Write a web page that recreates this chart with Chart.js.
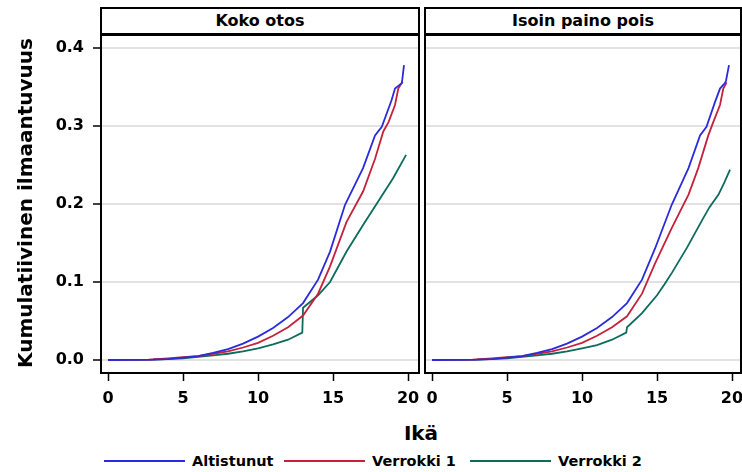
<!DOCTYPE html>
<html>
<head>
<meta charset="utf-8">
<script src="https://cdn.jsdelivr.net/npm/chart.js@4"></script>
<style>
  body { margin: 0; background: #fff; }
  #wrap { position: relative; width: 742px; height: 472px; font-family: "DejaVu Sans", sans-serif; font-weight: bold; color: #000; }
  canvas { position: absolute; top: 0; }
  #left { left: 0; }
  #right { left: 424px; }
  .strip { position: absolute; top: 7px; height: 29px; box-sizing: border-box; border: 2px solid #000; border-bottom-width: 3px; background: #fff; text-align: center; font-size: 16px; line-height: 24px; }
  #ylab { position: absolute; left: 25px; top: 203px; transform: translate(-50%, -50%) rotate(-90deg); font-size: 20px; white-space: nowrap; }
  #xlab { position: absolute; left: 421px; top: 433px; transform: translate(-50%, -50%); font-size: 20px; }
  .lg-line { position: absolute; top: 460px; height: 2px; width: 81px; }
  .lg-text { position: absolute; top: 452px; font-size: 14.5px; line-height: 18px; white-space: nowrap; }
</style>
</head>
<body>
<div id="wrap">
  <canvas id="left" width="421" height="420"></canvas>
  <canvas id="right" width="318" height="420"></canvas>
  <div class="strip" style="left:100px;width:320px">Koko otos</div>
  <div class="strip" style="left:424px;width:318px">Isoin paino pois</div>
  <div id="ylab">Kumulatiivinen ilmaantuvuus</div>
  <div id="xlab">Ikä</div>
  <div id="legend"></div>
</div>
<script>
const seriesNames = ["Altistunut", "Verrokki 1", "Verrokki 2"];
const seriesColors = ["#2b2bdc", "#c4213b", "#0b6b5d"];
const xTicks = [0, 5, 10, 15, 20];
const yTicks = [0, 0.1, 0.2, 0.3, 0.4];

// Koko otos
const ageAltL = [0, 3, 4, 5, 6, 7, 8, 9, 10, 11, 12, 13, 14, 14.8, 15.8, 17, 17.8, 18.25, 18.9, 19.13, 19.58, 19.62, 19.73];
const valAltL = [0, 0.0005, 0.0012, 0.003, 0.005, 0.009, 0.014, 0.021, 0.030, 0.041, 0.055, 0.073, 0.103, 0.139, 0.199, 0.246, 0.288, 0.299, 0.333, 0.348, 0.355, 0.360, 0.378];
const ageV1L = [0, 2.7, 4, 5, 6, 7, 8, 9, 10, 11, 12, 13, 14, 14.8, 15.9, 17, 17.8, 18.35, 18.7, 19.13, 19.35, 19.64];
const valV1L = [0, 0.0005, 0.002, 0.0035, 0.005, 0.008, 0.011, 0.016, 0.022, 0.031, 0.042, 0.057, 0.085, 0.120, 0.177, 0.216, 0.258, 0.293, 0.305, 0.327, 0.348, 0.357];
const ageV2L = [0, 3, 5, 6, 7, 8, 9, 10, 11, 12, 12.95, 13, 14, 14.8, 15.9, 17, 17.9, 19, 19.87];
const valV2L = [0, 0.0005, 0.002, 0.004, 0.006, 0.008, 0.011, 0.015, 0.020, 0.026, 0.035, 0.067, 0.083, 0.100, 0.139, 0.173, 0.200, 0.233, 0.263];

// Isoin paino pois
const ageAltR = [0, 3, 4, 5, 6, 7, 8, 9, 10, 11, 12, 13, 14, 14.87, 15.98, 17.1, 17.87, 18.3, 18.87, 19.2, 19.53, 19.6, 19.8];
const valAltR = [0, 0.0005, 0.0012, 0.003, 0.005, 0.009, 0.014, 0.021, 0.030, 0.041, 0.055, 0.073, 0.103, 0.143, 0.199, 0.246, 0.288, 0.299, 0.331, 0.348, 0.355, 0.358, 0.378];
const ageV1R = [0, 2.7, 4, 5, 6, 7, 8, 9, 10, 11, 12, 13, 14, 14.87, 15.98, 17.1, 17.75, 18.42, 18.75, 19.2, 19.42, 19.64];
const valV1R = [0, 0.0005, 0.002, 0.0035, 0.005, 0.008, 0.011, 0.016, 0.022, 0.031, 0.042, 0.056, 0.085, 0.124, 0.169, 0.212, 0.246, 0.288, 0.305, 0.327, 0.348, 0.356];
const ageV2R = [0, 3, 5, 6, 7, 8, 9, 10, 11, 12, 12.95, 13, 14, 15, 15.5, 16, 17, 18, 18.5, 19.1, 19.5, 19.87];
const valV2R = [0, 0.0005, 0.002, 0.004, 0.006, 0.008, 0.011, 0.015, 0.019, 0.026, 0.035, 0.042, 0.060, 0.083, 0.097, 0.112, 0.144, 0.179, 0.196, 0.212, 0.228, 0.244];

const pts = (ages, vals) => ages.map((a, i) => ({ x: a, y: vals[i] }));

const tickFont = { family: "'DejaVu Sans', sans-serif", size: 16, weight: "bold" };
Chart.defaults.color = "#000";

const frame = {
  id: "frame",
  afterDraw(chart) {
    const { ctx, chartArea: a } = chart;
    ctx.save();
    ctx.strokeStyle = "#000";
    ctx.lineWidth = 2;
    ctx.strokeRect(a.left, a.top, a.right - a.left, a.bottom - a.top);
    ctx.restore();
  },
};

function makePanel(canvasId, series, showY, xMin, xMax, padRight) {
  new Chart(document.getElementById(canvasId), {
    type: "line",
    data: {
      datasets: series.map((s, i) => ({
        label: seriesNames[i],
        data: s,
        borderColor: seriesColors[i],
        borderWidth: 1.8,
        pointRadius: 0,
        tension: 0,
        fill: false,
      })),
    },
    options: {
      responsive: false,
      animation: false,
      layout: { padding: { top: 35, right: padRight, left: 0, bottom: 0 } },
      plugins: { legend: { display: false }, tooltip: { enabled: false } },
      scales: {
        x: {
          type: "linear",
          min: xMin,
          max: xMax,
          afterBuildTicks: (sc) => { sc.ticks = xTicks.map((v) => ({ value: v })); },
          afterFit: (sc) => { sc.height = 47; sc.paddingLeft = 0; sc.paddingRight = 0; },
          border: { display: false },
          grid: { drawOnChartArea: false, tickLength: 8, tickColor: "#000", tickWidth: 1.5 },
          ticks: { padding: 8, maxRotation: 0, font: tickFont },
        },
        y: {
          min: -0.0167,
          max: 0.4167,
          afterBuildTicks: (sc) => { sc.ticks = yTicks.map((v) => ({ value: v })); },
          afterFit: (sc) => { sc.width = showY ? 101 : 1; sc.paddingTop = 0; sc.paddingBottom = 0; },
          border: { display: false },
          grid: { color: "#e2e2e2", lineWidth: 2, drawTicks: showY, tickLength: 8, tickColor: "#000", tickWidth: 1.5 },
          ticks: { display: showY, padding: 9, font: tickFont, callback: (v) => v.toFixed(1) },
        },
      },
    },
    plugins: [frame],
  });
}

makePanel("left", [pts(ageAltL, valAltL), pts(ageV1L, valV1L), pts(ageV2L, valV2L)], true, -0.47, 20.73, 2);
makePanel("right", [pts(ageAltR, valAltR), pts(ageV1R, valV1R), pts(ageV2R, valV2R)], false, -0.47, 20.6, 1);

// legend
const legendLineX = [104, 284, 470];
const legend = document.getElementById("legend");
seriesNames.forEach((name, i) => {
  const line = document.createElement("div");
  line.className = "lg-line";
  line.style.left = legendLineX[i] + "px";
  line.style.background = seriesColors[i];
  const txt = document.createElement("div");
  txt.className = "lg-text";
  txt.style.left = legendLineX[i] + 88 + "px";
  txt.textContent = name;
  legend.appendChild(line);
  legend.appendChild(txt);
});
</script>
</body>
</html>
